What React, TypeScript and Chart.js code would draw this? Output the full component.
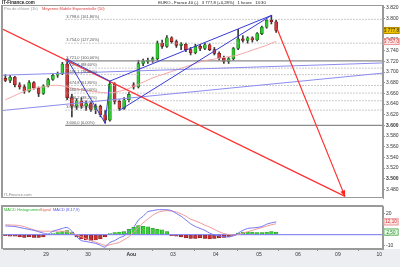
import React, { useEffect, useRef } from 'react';
import { Chart, registerables } from 'chart.js';
Chart.register(...registerables);

// ---- hourly candles (slot index = hour bar) ----
const opens = [3688,3684,3690,3676,3672,3664,3680,3670,3660, 3674,3686,3694,3697,3715,3652,3636,3646,3636, 3641,3630,3636,3620,3610,3678,3645,3632,3648, 3676,3672,3716,3720,3722,3725,3754,3748,3764, 3757,3750,3752,3742,3736,3748,3744,3751,3742, 3735,3726,3720,3725,3744,3762,3759,3764,3760, 3772,3784,3797,3794];
const highs = [3695,3694,3692,3680,3676,3684,3682,3672,3676, 3688,3696,3700,3718,3724,3658,3650,3652,3646, 3644,3640,3638,3628,3683,3680,3648,3652,3662, 3680,3722,3724,3726,3728,3758,3760,3768,3766, 3760,3755,3754,3746,3752,3752,3754,3753,3746, 3738,3730,3727,3746,3780,3768,3766,3766,3774, 3786,3800,3806,3797];
const lows = [3682,3680,3672,3668,3660,3662,3668,3654,3658, 3672,3684,3690,3695,3648,3616,3630,3632,3628, 3626,3622,3616,3604,3608,3640,3628,3630,3644, 3668,3670,3712,3716,3718,3722,3744,3746,3754, 3746,3742,3738,3732,3734,3740,3742,3740,3732, 3722,3716,3716,3722,3742,3756,3754,3756,3758, 3770,3782,3790,3774];
const closes = [3684,3690,3676,3672,3664,3680,3670,3660,3674, 3686,3694,3697,3715,3652,3636,3646,3636,3641, 3630,3636,3620,3610,3678,3645,3632,3648,3658, 3672,3716,3720,3722,3725,3754,3748,3764,3757, 3750,3752,3742,3736,3748,3744,3751,3742,3735, 3726,3720,3725,3744,3762,3759,3764,3760,3772, 3784,3797,3794,3777.8];
const ema50 = [3648,3652,3656,3660,3664,3667,3669,3671,3672, 3674,3675,3675,3674,3672,3670,3668,3667,3665, 3664,3663,3662,3661,3661,3662,3664,3666,3669, 3673,3677,3681,3685,3689,3692,3695,3698,3701, 3704,3707,3710,3713,3716,3719,3721,3723,3724, 3726,3727,3729,3730,3732,3735,3738,3741,3744, 3747,3750,3754,3757];

// ---- MACD panel ----
const macdLine = [8.3,8.0,7.7,6.8,5.9,5.0,4.1,2.8,1.5, 0.6,3.3,4.6,5.9,6.8,3.3,-2.0,-5.6,-6.4, -7.3,-8.2,-10.0,-11.7,-7.3,-5.6,-2.9,-1.1,3.3, 6.8,13.9,17.4,21.8,22.7,23.6,23.6,23.6,22.7, 20.0,17.4,13.9,10.3,7.7,5.9,4.1,1.5,-0.3, -1.1,-2.0,-2.0,-1.1,1.5,4.1,5.9,6.4,6.8, 7.7,9.9,11.2,12.1];
const signalLine = [9.4,9.2,9.0,8.6,7.6,6.0,4.6,3.5,3.3, 3.3,3.3,3.3,3.3,2.8,1.5,-0.2,-2.0,-3.8, -5.6,-7.1,-8.6,-10.0,-9.5,-8.4,-7.3,-4.7,-2.0, 2.4,6.8,11.2,14.7,18.3,20.9,22.2,22.7,22.2, 21.4,19.6,17.4,14.7,13.0,11.2,9.0,7.2,5.0, 2.8,1.1,0.2,-0.3,0.2,1.5,2.8,4.1,5.5, 6.8,8.1,9.4,10.3];
const histo = [-1,-1.5,-1.5,-2,-2.5,-2,-2.5,-2.5,-2, 0.5,1,2,3,4,2.5,-2,-4,-5, -5.5,-5,-4,-2,1,2,2.5,3,5, 7,8.5,8,7.5,6,5,4.5,3,-1, -1.5,-2,-3,-3.5,-3.5,-3,-3.5,-4,-3.5, -3,-2.5,-2,-1,1.5,2.5,2.5,2.5,2, 2,2.5,3,2.5];

// ---- axes ----
const dayTickPos = [8.55, 17.4, 26.5, 35.3, 44.3, 53.4, 61.6, 70.0, 78.7];
const dayTickLabels = ['29', '30', 'Aou', '03', '04', '05', '06', '09', '10'];
const priceTicks = [3480,3500,3520,3540,3560,3580,3600,3620,3640,3660,3680,3700,3720,3740,3760,3780,3800,3820];
const macdTicks = [20, 10, 0, -10];

// ---- Fibonacci levels ----
const fibPercents = [161.8, 127.2, 100, 88.6, 78.6, 61.8, 50, 38.2, 23.6, 0];
const fibPrices = [3798.6, 3754.0, 3721.0, 3707.2, 3695.1, 3674.8, 3660.5, 3646.2, 3628.6, 3600.0];
const fibStartX = 12.6;
const fibEndX = 79.5;

// ---- drawn trend lines (slot, price) ----
const channelX = [[-0.5, 79.5], [-0.5, 79.5]];
const channelY = [[3694, 3717], [3628, 3698]];
const pitchX = [[13, 21], [13, 22], [21, 22], [22, 56], [24, 56]];
const pitchY = [[3724, 3604], [3724, 3683], [3604, 3683], [3683, 3806], [3628, 3806]];
const redX = [[-0.5, 71.5], [57.2, 71.5]];
const redY = [[3780, 3467], [3781, 3467]];

const FONT = '"Liberation Sans", Arial, sans-serif';

const fmtNum = (v: number, sep: string) => {
  const s = v.toFixed(1);
  const [i, d] = s.split('.');
  return i.slice(0, -3) + sep + i.slice(-3) + ',' + d;
};
const fmtPct = (p: number) => p.toFixed(2).replace('.', ',') + '%';

function seg(xs: number[], ys: number[], color: string, width: number, dash: number[] = [], order = 0) {
  return {
    type: 'line',
    data: xs.map((x, k) => ({ x, y: ys[k] })),
    borderColor: color,
    borderWidth: width,
    borderDash: dash,
    pointRadius: 0,
    fill: false,
    tension: 0,
    order,
  };
}

function drawBox(ctx: CanvasRenderingContext2D, x: number, y: number, w: number, text: string, fill: string, stroke: string, color: string) {
  ctx.fillStyle = fill;
  ctx.strokeStyle = stroke;
  ctx.lineWidth = 0.8;
  ctx.fillRect(x, y - 3.5, w, 7);
  ctx.strokeRect(x + 0.4, y - 3.1, w - 0.8, 6.2);
  ctx.fillStyle = color;
  ctx.font = `4.5px ${FONT}`;
  ctx.textAlign = 'center';
  ctx.textBaseline = 'middle';
  ctx.fillText(text, x + w / 2, y + 0.3);
}

const mainDecor = {
  id: 'mainDecor',
  beforeDraw(chart: any) {
    const { ctx, width, height } = chart;
    ctx.save();
    ctx.fillStyle = '#ffffff';
    ctx.fillRect(0, 0, width, height);
    ctx.restore();
  },
  afterDatasetsDraw(chart: any) {
    const { ctx, chartArea: a, scales } = chart;
    const sx = scales.x, sy = scales.y;
    ctx.save();
    // fib labels
    ctx.font = `4px ${FONT}`;
    ctx.fillStyle = '#555';
    ctx.textAlign = 'left';
    ctx.textBaseline = 'bottom';
    fibPrices.forEach((p, i) => {
      ctx.fillText(`${fmtNum(p, '.')} (${fmtPct(fibPercents[i])})`, sx.getPixelForValue(fibStartX) + 1, sy.getPixelForValue(p) - 0.8);
    });
    // arrow head on the projection
    const x1 = sx.getPixelForValue(redX[1][0]), y1 = sy.getPixelForValue(redY[1][0]);
    const x2 = sx.getPixelForValue(redX[1][1]), y2 = sy.getPixelForValue(redY[1][1]);
    const ang = Math.atan2(y2 - y1, x2 - x1);
    ctx.fillStyle = '#ff2020';
    ctx.beginPath();
    ctx.moveTo(x2, y2);
    ctx.lineTo(x2 - 6 * Math.cos(ang) + 2.5 * Math.sin(ang), y2 - 6 * Math.sin(ang) - 2.5 * Math.cos(ang));
    ctx.lineTo(x2 - 6 * Math.cos(ang) - 2.5 * Math.sin(ang), y2 - 6 * Math.sin(ang) + 2.5 * Math.cos(ang));
    ctx.closePath();
    ctx.fill();
    // frame
    ctx.strokeStyle = '#9a9a9a';
    ctx.lineWidth = 1;
    ctx.strokeRect(a.left - 0.5, a.top + 0.5, a.width, a.height - 1);
    ctx.fillStyle = '#9a9a9a';
    ctx.fillRect(a.left - 2, a.top, 1.5, a.height);
    // watermark
    ctx.font = `4px ${FONT}`;
    ctx.fillStyle = '#888';
    ctx.textBaseline = 'middle';
    ctx.fillText('IT-Finance.com', a.left + 1, a.bottom - 3.5);
    // legend
    ctx.fillStyle = '#999';
    ctx.fillText('Prix de clôture (1h)', a.left + 1, a.top + 3.5);
    ctx.fillStyle = '#e04040';
    ctx.fillText('Moyenne Mobile Exponentielle (50)', a.left + 39, a.top + 3.5);
    // header
    ctx.fillStyle = '#222';
    ctx.font = `bold 4.5px ${FONT}`;
    ctx.fillText('IT-Finance.com', 2, 2.5);
    ctx.font = `4.2px ${FONT}`;
    ctx.textAlign = 'center';
    ctx.fillText('EURO - France 40 (-)   3 777,8 (+0,28%)   1 heure   13:30', 212, 2.5);
    // value boxes on the price axis
    const last = closes.length - 1;
    drawBox(ctx, a.right + 0.5, sy.getPixelForValue(closes[last]), 16, fmtNum(closes[last], ' '), '#f2c400', '#a08000', '#222');
    drawBox(ctx, a.right + 0.5, sy.getPixelForValue(ema50[last]), 16, fmtNum(ema50[last], ' '), '#fde6e6', '#e08080', '#d03030');
    ctx.restore();
  },
};

const macdDecor = {
  id: 'macdDecor',
  beforeDraw(chart: any) {
    const { ctx, width, height, chartArea: a } = chart;
    ctx.save();
    ctx.fillStyle = '#ffffff';
    ctx.fillRect(0, 0, width, height);
    ctx.fillStyle = '#eceef1';
    ctx.fillRect(0, a.bottom, width, height - a.bottom);
    ctx.restore();
  },
  afterDatasetsDraw(chart: any) {
    const { ctx, chartArea: a, scales } = chart;
    const sy = scales.y;
    ctx.save();
    ctx.strokeStyle = '#9a9a9a';
    ctx.lineWidth = 1;
    ctx.strokeRect(a.left - 0.5, a.top + 0.5, a.width, a.height - 1);
    ctx.fillStyle = '#9a9a9a';
    ctx.fillRect(a.left - 2, a.top, 1.5, a.height);
    ctx.fillRect(a.left - 2, a.top - 1, a.width + 2, 1.5);
    ctx.font = `4px ${FONT}`;
    ctx.textBaseline = 'middle';
    ctx.textAlign = 'left';
    ctx.fillStyle = '#2fb82f';
    ctx.fillText('MACD Histogramme', a.left + 1, a.top + 4);
    ctx.fillStyle = '#e06060';
    ctx.fillText('Signal', a.left + 37, a.top + 4);
    ctx.fillStyle = '#5050e0';
    ctx.fillText('MACD (8,17,9)', a.left + 50, a.top + 4);
    const last = macdLine.length - 1;
    drawBox(ctx, a.right + 0.5, sy.getPixelForValue(macdLine[last]), 15, macdLine[last].toFixed(2).replace('.', ','), '#fde6e6', '#e08080', '#d03030');
    drawBox(ctx, a.right + 0.5, sy.getPixelForValue(histo[last]), 15, histo[last].toFixed(2).replace('.', ','), '#e8fae8', '#40a040', '#208020');
    ctx.restore();
  },
};

export default function App() {
  const mainRef = useRef<HTMLCanvasElement>(null);
  const macdRef = useRef<HTMLCanvasElement>(null);

  useEffect(() => {
    document.body.style.margin = '0';
    Chart.defaults.font.family = FONT;
    const slots = opens.map((_, i) => i);
    const up = slots.map((i) => closes[i] >= opens[i]);

    const fibSets = fibPrices.map((p, i) =>
      seg([fibStartX, fibEndX], [p, p],
        fibPercents[i] === 0 || fibPercents[i] === 100 ? '#8a8a8a' : '#a8a8a8',
        fibPercents[i] === 0 || fibPercents[i] === 100 ? 1.2 : 0.8,
        fibPercents[i] === 0 || fibPercents[i] === 100 ? [] : [1.5, 1.5], 4)
    );

    const main = new Chart(mainRef.current as HTMLCanvasElement, {
      type: 'bar',
      data: {
        datasets: [
          ...fibSets,
          ...channelX.map((xs, k) => seg(xs, channelY[k], '#8c8cf0', 1, [], 1)),
          ...pitchX.map((xs, k) => seg(xs, pitchY[k], '#3a3ad8', 1, [], 0)),
          ...redX.map((xs, k) => seg(xs, redY[k], '#ff3030', 1.2, [], 0)),
          {
            type: 'line',
            data: slots.map((i) => ({ x: i, y: ema50[i] })),
            borderColor: '#f4a6a6',
            borderWidth: 1,
            pointRadius: 0,
            fill: false,
            tension: 0.3,
            order: 3,
          },
          {
            type: 'bar',
            data: slots.map((i) => ({ x: i, y: [lows[i], highs[i]] })),
            backgroundColor: '#3a3a3a',
            barThickness: 1,
            grouped: false,
            order: 6,
          },
          {
            type: 'bar',
            data: slots.map((i) => ({ x: i, y: [opens[i], closes[i]] })),
            backgroundColor: up.map((u) => (u ? '#30c830' : '#d03a3a')),
            borderColor: up.map((u) => (u ? '#0d6a0d' : '#6a1010')),
            borderWidth: 0.6,
            borderSkipped: false,
            barThickness: 3,
            minBarLength: 1,
            grouped: false,
            order: 5,
          },
        ] as any,
      },
      options: {
        animation: false,
        responsive: false,
        events: [],
        layout: { padding: { left: 3, top: 5, right: 0, bottom: 0 } },
        plugins: { legend: { display: false }, tooltip: { enabled: false } },
        scales: {
          x: { type: 'linear', min: -0.5, max: 79.5, offset: false, display: false },
          y: {
            position: 'right',
            min: 3464,
            max: 3825.5,
            afterBuildTicks: (axis: any) => { axis.ticks = priceTicks.map((v) => ({ value: v })); },
            afterFit: (axis: any) => { axis.width = 17; },
            grid: { display: true, drawOnChartArea: false, tickLength: 2, color: '#999' },
            border: { display: true, color: '#999' },
            ticks: {
              padding: 1,
              color: '#333',
              autoSkip: false,
              font: (c: any) => ({ size: 5, family: FONT, weight: c.tick && (c.tick.value === 3600 || c.tick.value === 3500) ? 'bold' : 'normal' }),
              callback: (v: any) => (Number(v) / 1000).toFixed(3),
            },
          },
        },
      } as any,
      plugins: [mainDecor],
    });

    const macd = new Chart(macdRef.current as HTMLCanvasElement, {
      type: 'bar',
      data: {
        datasets: [
          seg([-0.5, 79.5], [0, 0], '#7070f0', 1, [], 2),
          {
            type: 'line',
            data: slots.map((i) => ({ x: i, y: macdLine[i] })),
            borderColor: '#7676f2',
            borderWidth: 1,
            pointRadius: 0,
            fill: false,
            tension: 0.3,
            order: 0,
          },
          {
            type: 'line',
            data: slots.map((i) => ({ x: i, y: signalLine[i] })),
            borderColor: '#f09a9a',
            borderWidth: 1,
            pointRadius: 0,
            fill: false,
            tension: 0.3,
            order: 1,
          },
          {
            type: 'bar',
            data: slots.map((i) => ({ x: i, y: histo[i] })),
            backgroundColor: histo.map((h) => (h >= 0 ? '#3cd03c' : '#c83030')),
            borderColor: histo.map((h) => (h >= 0 ? '#1d8a1d' : '#6a1010')),
            borderWidth: 0.5,
            borderSkipped: false,
            barThickness: 3.6,
            grouped: false,
            order: 5,
          },
        ] as any,
      },
      options: {
        animation: false,
        responsive: false,
        events: [],
        layout: { padding: { left: 3, top: 1, right: 0, bottom: 0 } },
        plugins: { legend: { display: false }, tooltip: { enabled: false } },
        scales: {
          x: {
            type: 'linear',
            min: -0.5,
            max: 79.5,
            offset: false,
            afterBuildTicks: (axis: any) => { axis.ticks = dayTickPos.map((v) => ({ value: v })); },
            afterFit: (axis: any) => { axis.height = 18; },
            grid: { display: true, drawOnChartArea: false, tickLength: 2, color: '#888' },
            border: { display: true, color: '#999' },
            ticks: {
              autoSkip: false,
              maxRotation: 0,
              padding: 1,
              color: '#333',
              font: (c: any) => ({ size: 5, family: FONT, weight: dayTickLabels[c.index] === 'Aou' ? 'bold' : 'normal' }),
              callback: (_v: any, i: number) => dayTickLabels[i],
            },
          },
          y: {
            position: 'right',
            min: -13.5,
            max: 27.1,
            afterBuildTicks: (axis: any) => { axis.ticks = macdTicks.map((v) => ({ value: v })); },
            afterFit: (axis: any) => { axis.width = 17; },
            grid: { display: true, drawOnChartArea: false, tickLength: 2, color: '#999' },
            border: { display: true, color: '#999' },
            ticks: { padding: 1, color: '#333', autoSkip: false, font: { size: 5, family: FONT } },
          },
        },
      } as any,
      plugins: [macdDecor],
    });

    return () => {
      main.destroy();
      macd.destroy();
    };
  }, []);

  return (
    <div style={{ position: 'relative', width: 400, height: 267, background: '#fff' }}>
      <canvas ref={mainRef} width={400} height={202} style={{ position: 'absolute', left: 0, top: 0, width: 400, height: 202 }} />
      <canvas ref={macdRef} width={400} height={65} style={{ position: 'absolute', left: 0, top: 202, width: 400, height: 65 }} />
    </div>
  );
}
